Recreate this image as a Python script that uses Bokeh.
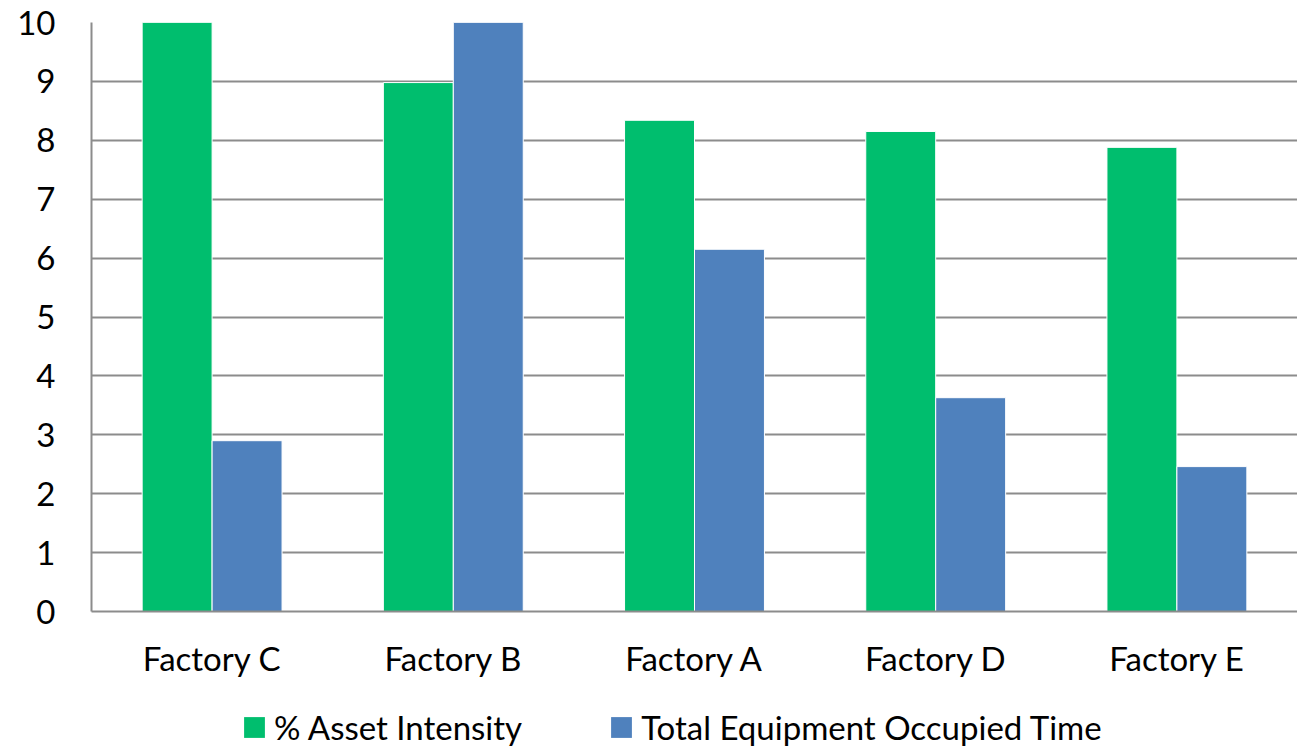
from bokeh.plotting import figure
from bokeh.layouts import column
from bokeh.models import ColumnDataSource, FactorRange, Legend, LegendItem, FixedTicker
from bokeh.transform import dodge
from bokeh.embed import file_html
from bokeh.resources import INLINE

factories = ["Factory C", "Factory B", "Factory A", "Factory D", "Factory E"]
asset_intensity = [10.0, 8.98, 8.34, 8.15, 7.88]
occupied_time = [2.90, 10.0, 6.15, 3.63, 2.46]
y_ticks = list(range(0, 11))
series_names = ["% Asset Intensity", "Total Equipment Occupied Time"]

GREEN = "#00BE6E"
BLUE = "#4F81BD"
GRID = "#8C8C8C"
FONT = "Lato"
FONT_SIZE = "33px"

src = ColumnDataSource(dict(f=factories, a=asset_intensity, t=occupied_time))

# main bar chart
p = figure(
    width=1297, height=690,
    x_range=FactorRange(*factories, range_padding=0),
    y_range=(0, 10),
    output_backend="svg", toolbar_location=None,
    min_border_left=91, min_border_right=0, min_border_top=22, min_border_bottom=79,
)

bw = 0.29
p.vbar(x=dodge("f", -bw / 2, range=p.x_range), top="a", width=bw, source=src,
       fill_color=GREEN, line_color="white", line_width=1)
p.vbar(x=dodge("f", bw / 2, range=p.x_range), top="t", width=bw, source=src,
       fill_color=BLUE, line_color="white", line_width=1)

p.outline_line_color = None
p.xgrid.grid_line_color = None
p.ygrid.grid_line_color = GRID
p.ygrid.grid_line_width = 2
p.yaxis.ticker = FixedTicker(ticks=y_ticks)

for ax in (p.xaxis, p.yaxis):
    ax.axis_line_color = GRID
    ax.axis_line_width = 2
    ax.major_tick_line_color = None
    ax.minor_tick_line_color = None
    ax.major_label_text_font = FONT
    ax.major_label_text_font_size = FONT_SIZE
    ax.major_label_text_color = "black"

p.yaxis.major_label_standoff = 30
p.xaxis.major_label_standoff = 20

# legend strip underneath the chart (its frame lines up with the chart's frame)
leg = figure(
    width=1297, height=57, x_range=(0, 1), y_range=(0, 1),
    output_backend="svg", toolbar_location=None,
    x_axis_type=None, y_axis_type=None,
    min_border=0, outline_line_color=None,
)
leg.xgrid.grid_line_color = None
leg.ygrid.grid_line_color = None
# zero-area proxies that only carry the series colours for the legend swatches
proxy = ColumnDataSource(dict(x=[0], top=[0]))
g1 = leg.vbar(x="x", top="top", width=0, source=proxy, fill_color=GREEN, line_color=None)
g2 = leg.vbar(x="x", top="top", width=0, source=proxy, fill_color=BLUE, line_color=None)

legend = Legend(
    items=[LegendItem(label=series_names[0], renderers=[g1]),
           LegendItem(label=series_names[1], renderers=[g2])],
    orientation="horizontal", location=(150, 0),
    label_text_font=FONT, label_text_font_size=FONT_SIZE, label_text_color="black",
    glyph_width=26, glyph_height=26, label_standoff=7, spacing=86,
    border_line_color=None, background_fill_alpha=0,
    padding=0, margin=0,
)
leg.add_layout(legend)

layout = column(p, leg, spacing=0)
open("out.html", "w").write(file_html(layout, INLINE))
